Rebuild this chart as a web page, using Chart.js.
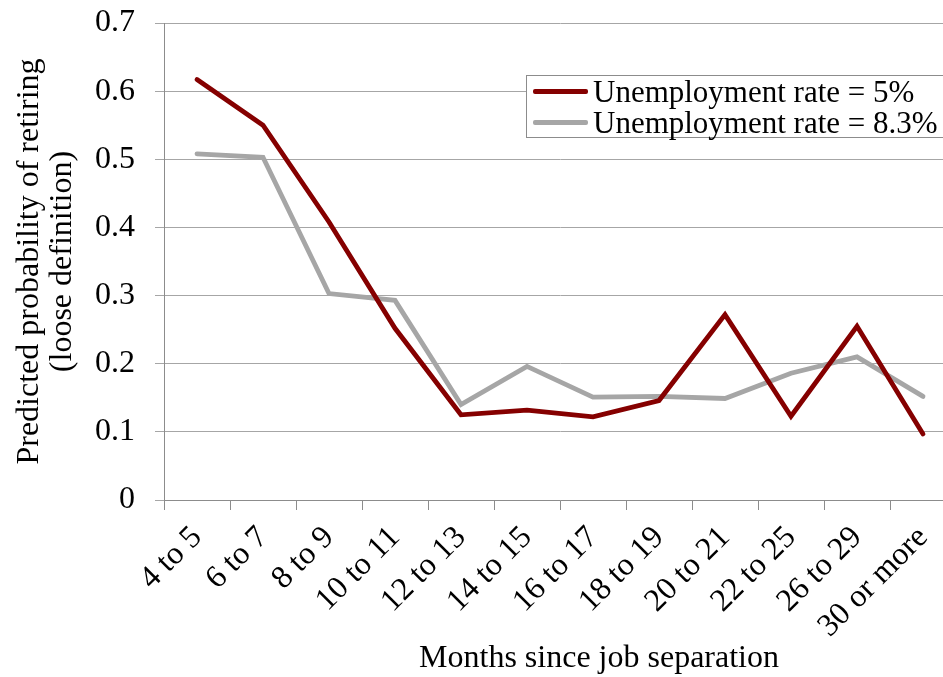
<!DOCTYPE html>
<html>
<head>
<meta charset="utf-8">
<script src="https://cdn.jsdelivr.net/npm/chart.js@4.4.0/dist/chart.umd.min.js"></script>
<style>
    body { margin: 0; overflow: hidden; background: #fff; }
    #wrap { position: relative; width: 943px; height: 677px; overflow: hidden; }
    #legend {
        position: absolute; left: 526px; top: 75px; width: 430px; height: 61px;
        border: 1px solid #8c8c8c; background: #fff;
        font-family: "Liberation Serif", serif; font-size: 31px; color: #000;
    }
    .row { display: flex; align-items: center; height: 31px; line-height: 31px; }
    .swatch { width: 55px; height: 5px; margin: 0 5px 0 6px; border-radius: 2px; }
    #xtitle {
        position: absolute; left: 299px; top: 640px; width: 600px; text-align: center;
        font-family: "Liberation Serif", serif; font-size: 32px; line-height: 32px; color: #000;
    }
</style>
</head>
<body>
<div id="wrap">
    <canvas id="myChart" width="960" height="677"></canvas>
    <div id="legend"></div>
    <div id="xtitle">Months since job separation</div>
</div>
<script>
const months = ['4 to 5', '6 to 7', '8 to 9', '10 to 11', '12 to 13', '14 to 15',
    '16 to 17', '18 to 19', '20 to 21', '22 to 25', '26 to 29', '30 or more'];
const rate5 = [0.617, 0.550, 0.408, 0.252, 0.125, 0.132, 0.122, 0.146, 0.272, 0.123, 0.255, 0.097];
const rate83 = [0.508, 0.503, 0.303, 0.293, 0.140, 0.196, 0.151, 0.152, 0.149, 0.186, 0.210, 0.152];
const seriesNames = ['Unemployment rate = 5%', 'Unemployment rate = 8.3%'];
const seriesColors = ['#850000', '#a6a6a6'];
const yTitle = ['Predicted probability of retiring', '(loose definition)'];

const serif = 'Liberation Serif';

const data = {
    labels: months,
    datasets: [{
        label: seriesNames[0],
        data: rate5,
        borderColor: seriesColors[0],
        backgroundColor: seriesColors[0],
        borderWidth: 4.8,
        pointRadius: 0,
        tension: 0,
        borderCapStyle: 'round'
    }, {
        label: seriesNames[1],
        data: rate83,
        borderColor: seriesColors[1],
        backgroundColor: seriesColors[1],
        borderWidth: 4.8,
        pointRadius: 0,
        tension: 0,
        borderCapStyle: 'round'
    }]
};

const config = {
    type: 'line',
    data: data,
    options: {
        responsive: false,
        animation: false,
        layout: { padding: { top: 23, right: 4, bottom: 0, left: 0 } },
        plugins: {
            legend: { display: false },
            tooltip: { enabled: false }
        },
        scales: {
            x: {
                offset: true,
                grid: { offset: true, drawOnChartArea: false, tickLength: 10, color: '#8c8c8c' },
                border: { color: '#8c8c8c' },
                ticks: {
                    color: '#000', font: { family: serif, size: 32 },
                    maxRotation: 45, minRotation: 45, padding: 9, autoSkip: false
                },
                afterFit: (scale) => { scale.height = 177; scale.paddingLeft = 0; scale.paddingRight = 0; }
            },
            y: {
                min: 0, max: 0.7,
                grid: { tickLength: 9, color: '#a6a6a6' },
                border: { color: '#8c8c8c' },
                ticks: {
                    stepSize: 0.1, color: '#000', font: { family: serif, size: 32 }, padding: 20,
                    callback: (v) => v === 0 ? '0' : v.toFixed(1)
                },
                title: {
                    display: true, text: yTitle, color: '#000',
                    font: { family: serif, size: 32, lineHeight: 1.03 },
                    padding: { top: 13, bottom: 0 }
                },
                afterFit: (scale) => { scale.width = 164; scale.paddingTop = 0; scale.paddingBottom = 0; }
            }
        }
    }
};

let myChart = new Chart(document.getElementById('myChart'), config);

// legend built from the datasets
let legendHtml = '';
for (let i = 0; i < seriesNames.length; i++) {
    legendHtml += '<div class="row"><span class="swatch" style="background:' + seriesColors[i] +
        '"></span>' + seriesNames[i] + '</div>';
}
document.getElementById('legend').innerHTML = legendHtml;
</script>
</body>
</html>
